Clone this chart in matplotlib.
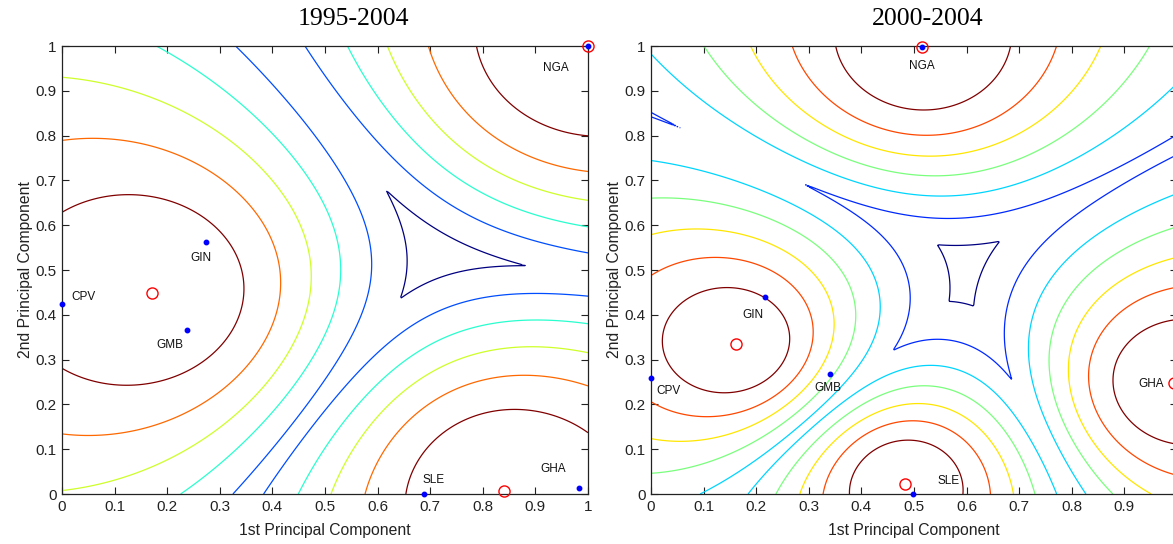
import numpy as np
import matplotlib
matplotlib.use("Agg")
import matplotlib.pyplot as plt

# ---------------- data ----------------
# Panel (left) 1995-2004
left_title = "1995-2004"
left_centers_x = [0.171, 1.0, 0.840]
left_centers_y = [0.448, 1.0, 0.007]
left_countries = ["CPV", "GIN", "GMB", "NGA", "SLE", "GHA"]
left_pc1 = [0.0, 0.273, 0.238, 1.0, 0.688, 0.983]
left_pc2 = [0.423, 0.563, 0.367, 1.0, 0.0, 0.013]
left_levels = [0.4, 0.5, 0.6, 0.7, 0.8, 0.9]

# Panel (right) 2000-2004
right_title = "2000-2004"
right_centers_x = [0.161, 0.515, 0.483, 0.995]
right_centers_y = [0.335, 0.998, 0.022, 0.248]
right_countries = ["CPV", "GIN", "GMB", "NGA", "SLE", "GHA"]
right_pc1 = [0.0, 0.217, 0.340, 0.515, 0.499, 1.02]
right_pc2 = [0.258, 0.439, 0.267, 0.998, 0.0, 0.245]
right_levels = [0.3, 0.4, 0.5, 0.6, 0.7, 0.8, 0.9]

tick_values = [0, 0.1, 0.2, 0.3, 0.4, 0.5, 0.6, 0.7, 0.8, 0.9, 1]
tick_labels = ["0", "0.1", "0.2", "0.3", "0.4", "0.5", "0.6", "0.7", "0.8", "0.9", "1"]
# the right panel is cropped just before its last x tick label
right_xtick_labels = ["0", "0.1", "0.2", "0.3", "0.4", "0.5", "0.6", "0.7", "0.8", "0.9", ""]
xlabel = "1st Principal Component"
ylabel = "2nd Principal Component"

# label offsets (style, in data units)
left_label_offsets = [(0.04, 0.016), (-0.009, -0.037), (-0.032, -0.035), (-0.061, -0.048), (0.018, 0.031), (-0.05, 0.042)]
right_label_offsets = [(0.034, -0.028), (-0.023, -0.039), (-0.004, -0.031), (0.0, -0.043), (0.067, 0.03), (-0.07, 0.0)]


def fcm_max_membership(xx, yy, cx, cy, m=2.0):
    cx = np.asarray(cx)
    cy = np.asarray(cy)
    d2 = (xx[..., None] - cx) ** 2 + (yy[..., None] - cy) ** 2
    w = 1.0 / np.maximum(d2, 1e-12) ** (1.0 / (m - 1.0))
    u = w / w.sum(axis=-1, keepdims=True)
    return u.max(axis=-1)


g = np.linspace(0, 1, 401)
XX, YY = np.meshgrid(g, g)

W, H = 1173, 544
plt.rcParams["font.family"] = ["Liberation Sans", "DejaVu Sans"]
fig = plt.figure(figsize=(W / 100, H / 100), dpi=100)
fig.patch.set_facecolor("white")

ax_h = 448 / H
ax_b = (H - 494) / H
ax_w = 526 / W
axL = fig.add_axes([62 / W, ax_b, ax_w, ax_h])
axR = fig.add_axes([651 / W, ax_b, ax_w, ax_h])


def draw_panel(ax, cx, cy, levels, names, px, py, offsets, xticklabels):
    Z = fcm_max_membership(XX, YY, cx, cy)
    ax.contour(XX, YY, Z, levels=levels, cmap="jet", linewidths=0.9)
    ax.plot(cx, cy, linestyle="none", marker="o", markersize=8,
            markerfacecolor="none", markeredgecolor="red", markeredgewidth=1.0,
            clip_on=False, zorder=5)
    ax.plot(px, py, linestyle="none", marker="o", markersize=3.2,
            color="blue", clip_on=False, zorder=6)
    for n, x, y, (dx, dy) in zip(names, px, py, offsets):
        ax.text(x + dx, y + dy, n, fontsize=8.5, ha="center", va="center",
                color="#111111", clip_on=False)
    ax.set_xlim(0, 1)
    ax.set_ylim(0, 1)
    ax.set_xticks(tick_values)
    ax.set_xticklabels(xticklabels)
    ax.set_yticks(tick_values)
    ax.set_yticklabels(tick_labels)
    ax.tick_params(direction="in", top=True, right=True, length=5, width=0.8,
                   labelsize=11, pad=4, colors="#222222")
    for s in ax.spines.values():
        s.set_linewidth(0.9)
        s.set_color("#222222")
    ax.set_xlabel(xlabel, fontsize=11.3, labelpad=7, color="#222222")
    ax.set_ylabel(ylabel, fontsize=11.3, labelpad=2, color="#222222")


draw_panel(axL, left_centers_x, left_centers_y, left_levels, left_countries,
           left_pc1, left_pc2, left_label_offsets, tick_labels)
draw_panel(axR, right_centers_x, right_centers_y, right_levels, right_countries,
           right_pc1, right_pc2, right_label_offsets, right_xtick_labels)

fig.text(353 / W, 1 - 19 / H, left_title, ha="center", va="center",
         fontsize=18.5, family="Liberation Serif")
fig.text(928 / W, 1 - 19 / H, right_title, ha="center", va="center",
         fontsize=18.5, family="Liberation Serif")

fig.savefig("out.png", dpi=100, facecolor="white")
